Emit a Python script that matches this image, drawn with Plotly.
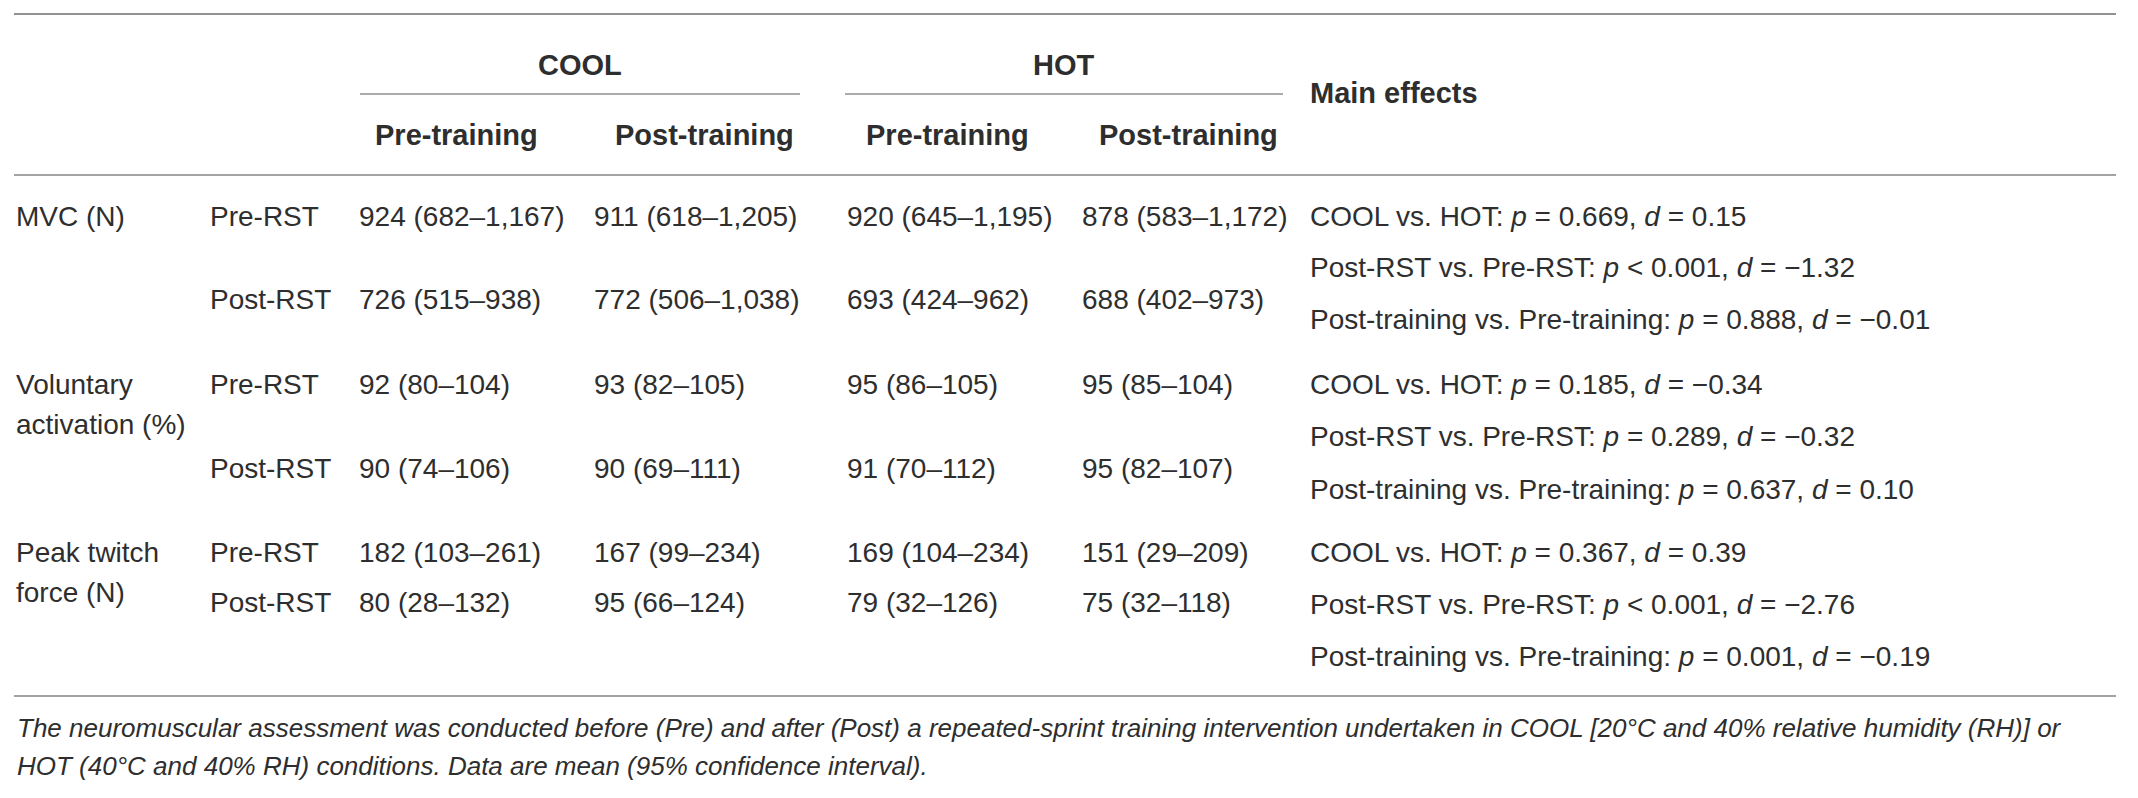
import plotly.graph_objects as go

# table content
measure_lines = [["MVC (N)"], ["Voluntary", "activation (%)"], ["Peak twitch", "force (N)"]]
timepoints = ["Pre-RST", "Post-RST"]

cool_pre = ["924 (682–1,167)", "726 (515–938)", "92 (80–104)", "90 (74–106)", "182 (103–261)", "80 (28–132)"]
cool_post = ["911 (618–1,205)", "772 (506–1,038)", "93 (82–105)", "90 (69–111)", "167 (99–234)", "95 (66–124)"]
hot_pre = ["920 (645–1,195)", "693 (424–962)", "95 (86–105)", "91 (70–112)", "169 (104–234)", "79 (32–126)"]
hot_post = ["878 (583–1,172)", "688 (402–973)", "95 (85–104)", "95 (82–107)", "151 (29–209)", "75 (32–118)"]

comparisons = ["COOL vs. HOT", "Post-RST vs. Pre-RST", "Post-training vs. Pre-training"]
p_values = [["= 0.669", "< 0.001", "= 0.888"],
            ["= 0.185", "= 0.289", "= 0.637"],
            ["= 0.367", "< 0.001", "= 0.001"]]
d_values = [["0.15", "−1.32", "−0.01"],
            ["−0.34", "−0.32", "0.10"],
            ["0.39", "−2.76", "−0.19"]]

groups = ["COOL", "HOT"]
phases = ["Pre-training", "Post-training"]
effects_title = "Main effects"

footnote = ["The neuromuscular assessment was conducted before (Pre) and after (Post) a repeated-sprint training "
            "intervention undertaken in COOL [20°C and 40% relative humidity (RH)] or",
            "HOT (40°C and 40% RH) conditions. Data are mean (95% confidence interval)."]

# -------------------------------------------------
# layout constants (screen pixels of the 2138x798 window)
# -------------------------------------------------
W, H = 2138, 798
PAGE_MARGIN = 8  # default body margin of the html page
TXT = "#2e2e2e"
FONT = "Liberation Sans, Arial, sans-serif"
FS = 28

x_label, x_time = 14, 208
x_vals = [357, 592, 845, 1080]
x_phase = [373, 613, 864, 1097]
x_effects = 1308
group_span = [(360, 800), (845, 1283)]

y_rows = [217, 300, 385, 469, 553, 603]
y_label_lines = [[217], [385, 425], [553, 593]]
y_effects = [[217, 268, 320], [385, 437, 490], [553, 605, 657]]
dy = -1  # nudge so caps sit centred on the row

annotations = []


def add_text(x, y, text, size=FS, bold=False, italic=False, anchor="left"):
    if bold:
        text = "<b>" + text + "</b>"
    if italic:
        text = "<i>" + text + "</i>"
    annotations.append(dict(
        x=x, y=y + dy, xref="x", yref="y", text=text, showarrow=False,
        xanchor=anchor, yanchor="middle", align="left",
        font=dict(family=FONT, size=size, color=TXT),
    ))


# header
for (x0, x1), g in zip(group_span, groups):
    add_text((x0 + x1) / 2, 66, g, size=29, bold=True, anchor="center")
for i, x in enumerate(x_phase):
    add_text(x, 136, phases[i % 2], size=29, bold=True)
add_text(x_effects, 94, effects_title, size=29, bold=True)

# body
for m, lines in enumerate(measure_lines):
    for line, y in zip(lines, y_label_lines[m]):
        add_text(x_label, y, line)
    for t in range(2):
        r = 2 * m + t
        y = y_rows[r]
        add_text(x_time, y, timepoints[t])
        for x, col in zip(x_vals, [cool_pre, cool_post, hot_pre, hot_post]):
            add_text(x, y, col[r])
    for k in range(3):
        p = p_values[m][k].replace("<", "&lt;")
        add_text(x_effects, y_effects[m][k],
                 f"{comparisons[k]}: <i>p</i> {p}, <i>d</i> = {d_values[m][k]}")

# footnote
for line, y in zip(footnote, [729, 767]):
    add_text(15, y, line, size=26, italic=True)

# rules
shapes = [
    dict(type="line", x0=14, x1=2116, y0=14, y1=14, line=dict(color="#6e6e6e", width=1.5)),
    dict(type="line", x0=14, x1=2116, y0=175, y1=175, line=dict(color="#a3a3a3", width=2)),
    dict(type="line", x0=14, x1=2116, y0=696, y1=696, line=dict(color="#a3a3a3", width=2)),
]
for x0, x1 in group_span:
    shapes.append(dict(type="line", x0=x0, x1=x1, y0=94, y1=94,
                       line=dict(color="#8f8f8f", width=1.5)))
for s in shapes:
    s.update(xref="x", yref="y")

fig = go.Figure()
fig.update_layout(
    width=W - 2 * PAGE_MARGIN, height=H - 2 * PAGE_MARGIN, autosize=False,
    margin=dict(l=0, r=0, t=0, b=0),
    paper_bgcolor="white", plot_bgcolor="white",
    xaxis=dict(range=[PAGE_MARGIN, W - PAGE_MARGIN], visible=False, fixedrange=True),
    yaxis=dict(range=[H - PAGE_MARGIN, PAGE_MARGIN], visible=False, fixedrange=True),
    annotations=annotations,
    shapes=shapes,
    showlegend=False,
)

fig.write_html("out.html")
